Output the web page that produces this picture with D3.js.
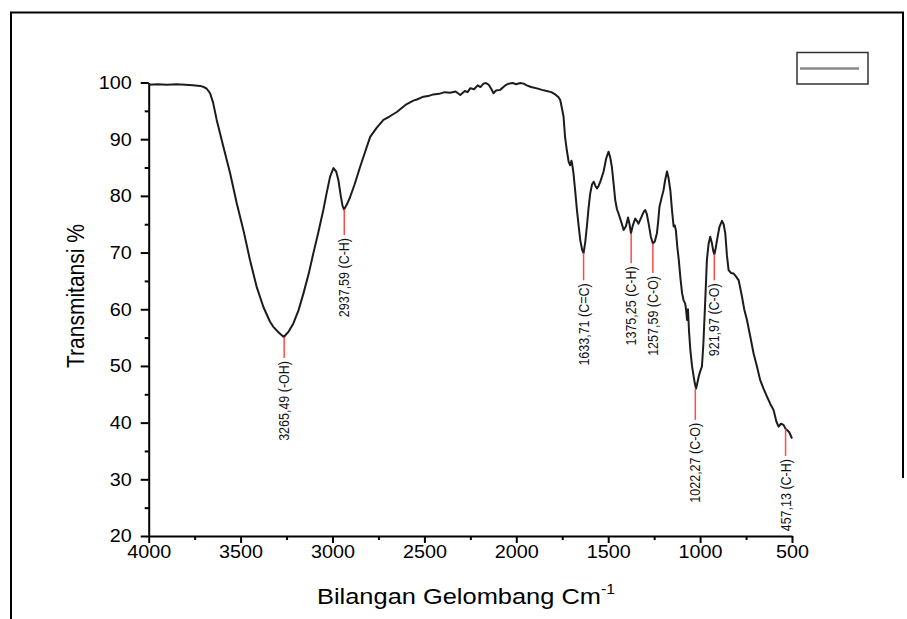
<!DOCTYPE html>
<html>
<head>
<meta charset="utf-8">
<script src="https://cdn.jsdelivr.net/npm/d3@7"></script>
<style>
  body { margin: 0; background: #fff; }
  text { font-family: "Liberation Sans", Arial, sans-serif; }
</style>
</head>
<body>
<div id="chart_ftir"></div>
<script>
// FTIR spectrum, wavenumber (cm-1) vs transmittance (%)
const wavenumber = [4000, 3950, 3900, 3850, 3800, 3760, 3721, 3700, 3684, 3666, 3650, 3630, 3594, 3557, 3521, 3485, 3449, 3413, 3376, 3340, 3322, 3290, 3265, 3240, 3213, 3185, 3158, 3130, 3104, 3077, 3050, 3030, 3013, 2995, 2980, 2968, 2955, 2945, 2937, 2920, 2904, 2880, 2850, 2820, 2795, 2760, 2723, 2690, 2650, 2620, 2596, 2560, 2541, 2505, 2480, 2451, 2420, 2390, 2360, 2330, 2305, 2280, 2265, 2250, 2230, 2210, 2195, 2179, 2165, 2150, 2135, 2124, 2110, 2088, 2070, 2055, 2043, 2020, 2000, 1979, 1960, 1943, 1920, 1888, 1860, 1834, 1810, 1788, 1770, 1761, 1752, 1743, 1735, 1725, 1715, 1707, 1700, 1697, 1689, 1680, 1670, 1660, 1652, 1642, 1634, 1625, 1616, 1607, 1598, 1588, 1579, 1570, 1561, 1552, 1543, 1534, 1525, 1511, 1498, 1489, 1480, 1470, 1462, 1452, 1444, 1430, 1416, 1404, 1392, 1384, 1376, 1366, 1353, 1344, 1335, 1320, 1305, 1298, 1290, 1280, 1268, 1257, 1246, 1235, 1228, 1221, 1210, 1199, 1190, 1180, 1172, 1162, 1153, 1144, 1138, 1132, 1124, 1116, 1107, 1098, 1090, 1081, 1076, 1071, 1066, 1060, 1053, 1044, 1035, 1028, 1022, 1015, 1008, 1000, 990, 982, 972, 963, 954, 945, 936, 928, 922, 915, 908, 895, 881, 872, 863, 854, 845, 832, 818, 805, 790, 772, 760, 745, 727, 709, 690, 673, 655, 636, 618, 600, 585, 573, 560, 546, 535, 527, 515, 500];
const transmitansi = [99.6, 99.7, 99.6, 99.7, 99.6, 99.5, 99.4, 99.2, 98.9, 98.1, 96.5, 93.4, 88.7, 84.0, 78.7, 74.0, 68.7, 64.0, 60.4, 57.8, 56.9, 55.8, 55.1, 56.0, 57.5, 59.8, 62.8, 66.2, 69.9, 73.6, 77.5, 80.8, 83.4, 84.9, 84.3, 82.8, 80.0, 78.2, 77.6, 78.6, 79.8, 82.0, 85.1, 88.0, 90.4, 92.0, 93.4, 94.0, 94.8, 95.6, 96.2, 96.8, 97.0, 97.5, 97.6, 97.9, 98.0, 98.3, 98.2, 98.4, 97.8, 98.5, 98.3, 99.0, 98.8, 99.5, 99.2, 99.8, 99.9, 99.6, 98.8, 98.1, 98.6, 98.7, 99.2, 99.6, 99.8, 99.9, 99.7, 99.9, 99.8, 99.5, 99.2, 98.96, 98.7, 98.5, 98.3, 97.9, 97.4, 96.9, 95.5, 94.0, 90.5, 88.0, 86.0, 85.4, 86.2, 85.8, 84.0, 81.0, 77.5, 74.5, 72.2, 70.5, 69.9, 71.8, 74.6, 77.8, 80.4, 82.0, 82.5, 81.8, 81.3, 81.8, 82.5, 83.4, 84.3, 86.6, 87.8, 86.8, 85.1, 82.0, 79.3, 77.6, 76.9, 75.5, 74.0, 74.6, 76.2, 75.0, 73.4, 74.8, 76.0, 75.6, 75.1, 76.2, 77.3, 77.5, 76.8, 75.1, 72.8, 71.6, 72.0, 73.4, 75.5, 78.1, 79.6, 81.0, 82.8, 84.3, 83.2, 81.0, 77.5, 74.6, 74.8, 74.0, 71.0, 68.7, 65.5, 62.8, 61.6, 61.0, 59.8, 58.1, 60.0, 56.0, 52.8, 50.0, 48.1, 46.8, 46.0, 47.0, 48.1, 49.0, 49.9, 54.0, 61.6, 68.7, 71.5, 72.8, 71.7, 70.2, 69.7, 70.8, 72.2, 74.5, 75.6, 75.0, 73.4, 69.5, 66.9, 66.4, 66.3, 65.8, 65.1, 62.2, 60.0, 58.1, 55.2, 52.2, 49.8, 47.5, 46.0, 44.6, 43.3, 42.2, 40.2, 39.3, 39.8, 39.6, 38.9, 38.7, 38.3, 37.2];

// peak annotations: where marked, tip of red line, bottom of red line, label
const peakPos = [3263, 2936, 1634, 1375, 1257, 1026, 923, 535];
const peakTip = [55.1, 77.6, 69.9, 73.4, 71.6, 46.0, 69.7, 38.9];
const peakEnd = [51.4, 73.1, 65.1, 68.1, 66.4, 40.5, 65.1, 34.1];
const peakLabels = ["3265,49 (-OH)", "2937,59 (C-H)", "1633,71 (C=C)", "1375,25 (C-H)",
  "1257,59 (C-O)", "1022,27 (C-O)", "921,97 (C-O)", "457,13 (C-H)"];

const xTicks = [4000, 3500, 3000, 2500, 2000, 1500, 1000, 500];
const xMinor = [3750, 3250, 2750, 2250, 1750, 1250, 750];
const yTicks = [20, 30, 40, 50, 60, 70, 80, 90, 100];
const yMinor = [25, 35, 45, 55, 65, 75, 85, 95];

const width = 907, height = 619;
const stretch = 1.13; // text in the source is a bit wide

const svg = d3.select("#chart_ftir")
  .append("svg")
  .attr("width", width)
  .attr("height", height);

// outer frame
svg.append("path")
  .attr("d", "M11,619 V12.5 H903 V478")
  .attr("fill", "none")
  .attr("stroke", "#000")
  .attr("stroke-width", 2);

let x = d3.scaleLinear().domain([4000, 500]).range([148.7, 792]);
let y = d3.scaleLinear().domain([20, 100]).range([536, 82.5]);

// y axis
let gy = svg.append("g")
  .attr("transform", "translate(148.7,0)")
  .call(d3.axisLeft(y).tickValues(yTicks).tickSize(8).tickSizeOuter(0));
gy.selectAll("text")
  .attr("x", -17 / stretch)
  .attr("dy", "0.34em")
  .attr("transform", `scale(${stretch},1)`)
  .style("font-size", "17.5px")
  .attr("fill", "#000");

svg.append("g")
  .attr("transform", "translate(148.7,0)")
  .call(d3.axisLeft(y).tickValues(yMinor).tickSize(4).tickFormat(""))
  .call(g => g.select(".domain").remove());

// x axis
let gx = svg.append("g")
  .attr("transform", "translate(0,536)")
  .call(d3.axisBottom(x).tickValues(xTicks).tickSize(7).tickSizeOuter(0)
    .tickFormat(d3.format("d")));
gx.selectAll("text")
  .attr("y", 10)
  .attr("transform", `scale(${stretch},1)`)
  .style("font-size", "17.5px")
  .attr("fill", "#000");

svg.append("g")
  .attr("transform", "translate(0,536)")
  .call(d3.axisBottom(x).tickValues(xMinor).tickSize(4).tickFormat(""))
  .call(g => g.select(".domain").remove());

svg.selectAll(".domain, .tick line")
  .attr("stroke", "#000")
  .attr("stroke-width", 2);

// axis titles
svg.append("text")
  .attr("transform", `translate(84,296) rotate(-90) scale(1,${stretch})`)
  .attr("text-anchor", "middle")
  .style("font-size", "21px")
  .text("Transmitansi %");

let xt = svg.append("text")
  .attr("transform", `translate(466,604) scale(${stretch},1)`)
  .attr("text-anchor", "middle")
  .style("font-size", "22.5px");
xt.append("tspan").text("Bilangan Gelombang Cm");
xt.append("tspan").attr("dy", -10).style("font-size", "14px").text("-1");

// spectrum
let data = wavenumber.map((w, i) => ({ w: w, t: transmitansi[i] }));
let line = d3.line()
  .x(d => x(d.w))
  .y(d => y(d.t));

svg.append("path")
  .datum(data)
  .attr("d", line)
  .attr("fill", "none")
  .attr("stroke", "#1c1c1c")
  .attr("stroke-width", 2)
  .attr("stroke-linejoin", "round");

// peak markers
peakPos.forEach((p, i) => {
  svg.append("line")
    .attr("x1", x(p)).attr("x2", x(p))
    .attr("y1", y(peakTip[i])).attr("y2", y(peakEnd[i]))
    .attr("stroke", "#ff4a4a")
    .attr("stroke-width", 1.5);

  svg.append("text")
    .attr("transform", `translate(${x(p)},${y(peakEnd[i]) + 3}) rotate(-90) scale(1,${stretch})`)
    .attr("text-anchor", "end")
    .attr("dy", "0.35em")
    .style("font-size", "12.5px")
    .attr("fill", "#111")
    .text(peakLabels[i]);
});

// legend (empty label, as in the source)
svg.append("rect")
  .attr("x", 797).attr("y", 52.5)
  .attr("width", 71).attr("height", 31.5)
  .attr("fill", "#fff")
  .attr("stroke", "#333")
  .attr("stroke-width", 1.5);

svg.append("line")
  .attr("x1", 800).attr("x2", 859)
  .attr("y1", 68.5).attr("y2", 68.5)
  .attr("stroke", "#888")
  .attr("stroke-width", 2.5);
</script>
</body>
</html>
